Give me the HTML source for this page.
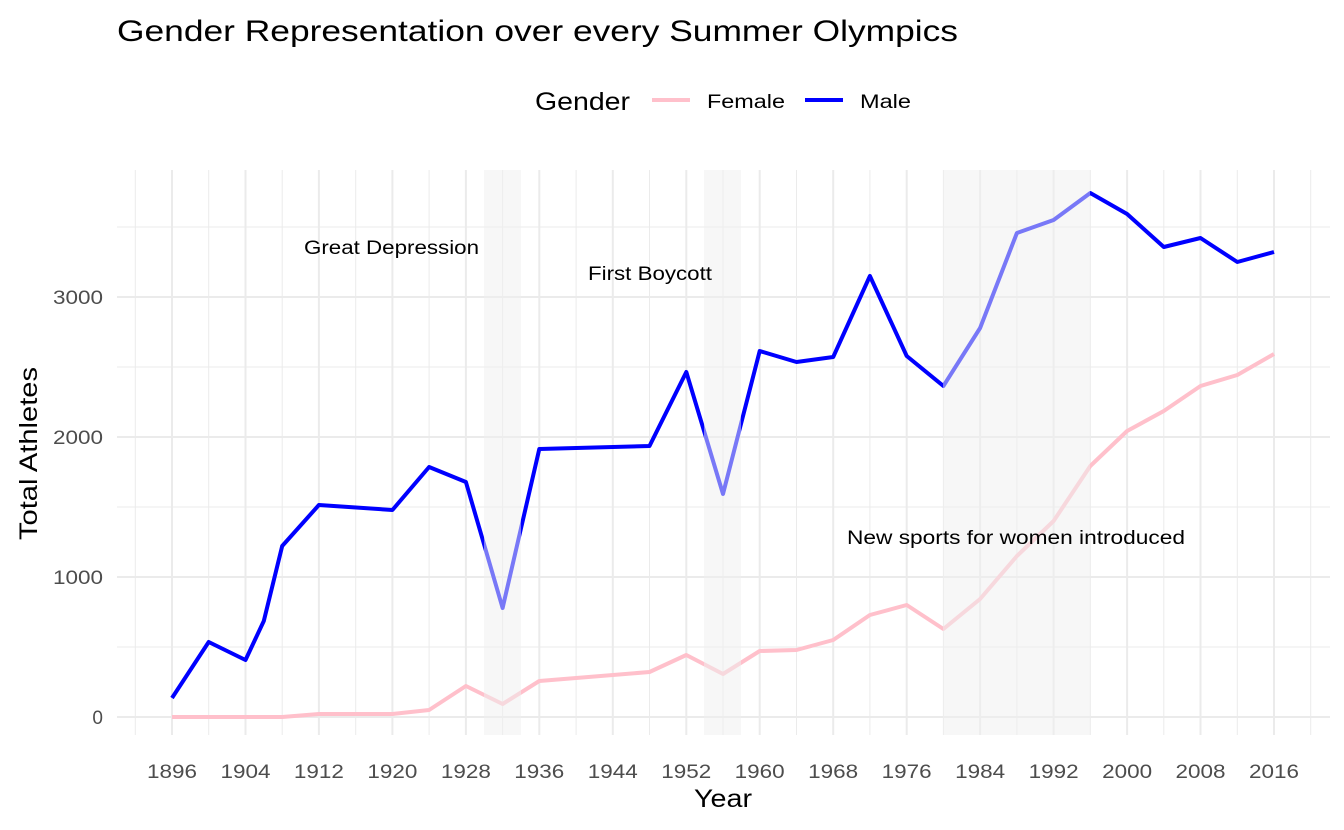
<!DOCTYPE html>
<html><head><meta charset="utf-8"><style>
html,body{margin:0;padding:0;background:#fff;}
svg{display:block;font-family:"Liberation Sans",sans-serif;}
</style></head><body>
<svg width="1344" height="830" viewBox="0 0 1344 830">
<rect width="1344" height="830" fill="#fff"/>
<g stroke="#ebebeb" stroke-width="1">
<line x1="135.3" y1="170" x2="135.3" y2="735"/><line x1="208.7" y1="170" x2="208.7" y2="735"/><line x1="282.2" y1="170" x2="282.2" y2="735"/><line x1="355.7" y1="170" x2="355.7" y2="735"/><line x1="429.1" y1="170" x2="429.1" y2="735"/><line x1="502.6" y1="170" x2="502.6" y2="735"/><line x1="576.1" y1="170" x2="576.1" y2="735"/><line x1="649.5" y1="170" x2="649.5" y2="735"/><line x1="723" y1="170" x2="723" y2="735"/><line x1="796.5" y1="170" x2="796.5" y2="735"/><line x1="869.9" y1="170" x2="869.9" y2="735"/><line x1="943.4" y1="170" x2="943.4" y2="735"/><line x1="1016.9" y1="170" x2="1016.9" y2="735"/><line x1="1090.3" y1="170" x2="1090.3" y2="735"/><line x1="1163.8" y1="170" x2="1163.8" y2="735"/><line x1="1237.3" y1="170" x2="1237.3" y2="735"/><line x1="1310.7" y1="170" x2="1310.7" y2="735"/>
<line x1="117" y1="647" x2="1330" y2="647"/><line x1="117" y1="507" x2="1330" y2="507"/><line x1="117" y1="367" x2="1330" y2="367"/><line x1="117" y1="227" x2="1330" y2="227"/>
</g>
<g stroke="#ebebeb" stroke-width="2">
<line x1="172" y1="170" x2="172" y2="735"/><line x1="245.5" y1="170" x2="245.5" y2="735"/><line x1="318.9" y1="170" x2="318.9" y2="735"/><line x1="392.4" y1="170" x2="392.4" y2="735"/><line x1="465.9" y1="170" x2="465.9" y2="735"/><line x1="539.3" y1="170" x2="539.3" y2="735"/><line x1="612.8" y1="170" x2="612.8" y2="735"/><line x1="686.3" y1="170" x2="686.3" y2="735"/><line x1="759.7" y1="170" x2="759.7" y2="735"/><line x1="833.2" y1="170" x2="833.2" y2="735"/><line x1="906.7" y1="170" x2="906.7" y2="735"/><line x1="980.1" y1="170" x2="980.1" y2="735"/><line x1="1053.6" y1="170" x2="1053.6" y2="735"/><line x1="1127.1" y1="170" x2="1127.1" y2="735"/><line x1="1200.5" y1="170" x2="1200.5" y2="735"/><line x1="1274" y1="170" x2="1274" y2="735"/>
<line x1="117" y1="717" x2="1330" y2="717"/><line x1="117" y1="577" x2="1330" y2="577"/><line x1="117" y1="437" x2="1330" y2="437"/><line x1="117" y1="297" x2="1330" y2="297"/>
</g>
<polyline fill="none" stroke="#ffc0cb" stroke-width="4" stroke-linejoin="round" points="172,717 208.7,717 245.5,717 263.8,717 282.2,717 318.9,714 392.4,714 429.1,710 465.9,686 502.6,704 539.3,681 649.5,672 686.3,655 723,674 759.7,651 796.5,650 833.2,640 869.9,615 906.7,605 943.4,629 980.1,599 1016.9,556 1053.6,521 1090.3,466 1127.1,431 1163.8,411 1200.5,386 1237.3,375 1274,354"/>
<polyline fill="none" stroke="#0000ff" stroke-width="4" stroke-linejoin="round" points="172,698 208.7,642 245.5,660 263.8,621 282.2,546 318.9,505 392.4,510 429.1,467 465.9,482 502.6,608 539.3,449 649.5,446 686.3,372 723,494 759.7,351 796.5,362 833.2,357 869.9,276 906.7,356 943.4,386 980.1,328 1016.9,233 1053.6,220 1090.3,193 1127.1,214 1163.8,247 1200.5,238 1237.3,262 1274,252"/>
<g fill="#f0f0f0" fill-opacity="0.5">
<rect x="484" y="170" width="37" height="565"/>
<rect x="704" y="170" width="37" height="565"/>
<rect x="943" y="170" width="147" height="565"/>
</g>
<g font-size="19" fill="#000">
<text x="304" y="254" textLength="175" lengthAdjust="spacingAndGlyphs">Great Depression</text>
<text x="588" y="280" textLength="124" lengthAdjust="spacingAndGlyphs">First Boycott</text>
<text x="847" y="544" textLength="338" lengthAdjust="spacingAndGlyphs">New sports for women introduced</text>
</g>
<g font-size="19" fill="#4d4d4d" text-anchor="end">
<text x="103" y="724">0</text><text x="103" y="584" textLength="50" lengthAdjust="spacingAndGlyphs">1000</text><text x="103" y="444" textLength="50" lengthAdjust="spacingAndGlyphs">2000</text><text x="103" y="304" textLength="50" lengthAdjust="spacingAndGlyphs">3000</text>
</g>
<g font-size="19" fill="#4d4d4d">
<text x="147" y="778" textLength="50" lengthAdjust="spacingAndGlyphs">1896</text><text x="220.5" y="778" textLength="50" lengthAdjust="spacingAndGlyphs">1904</text><text x="293.9" y="778" textLength="50" lengthAdjust="spacingAndGlyphs">1912</text><text x="367.4" y="778" textLength="50" lengthAdjust="spacingAndGlyphs">1920</text><text x="440.9" y="778" textLength="50" lengthAdjust="spacingAndGlyphs">1928</text><text x="514.3" y="778" textLength="50" lengthAdjust="spacingAndGlyphs">1936</text><text x="587.8" y="778" textLength="50" lengthAdjust="spacingAndGlyphs">1944</text><text x="661.3" y="778" textLength="50" lengthAdjust="spacingAndGlyphs">1952</text><text x="734.7" y="778" textLength="50" lengthAdjust="spacingAndGlyphs">1960</text><text x="808.2" y="778" textLength="50" lengthAdjust="spacingAndGlyphs">1968</text><text x="881.7" y="778" textLength="50" lengthAdjust="spacingAndGlyphs">1976</text><text x="955.1" y="778" textLength="50" lengthAdjust="spacingAndGlyphs">1984</text><text x="1028.6" y="778" textLength="50" lengthAdjust="spacingAndGlyphs">1992</text><text x="1102.1" y="778" textLength="50" lengthAdjust="spacingAndGlyphs">2000</text><text x="1175.5" y="778" textLength="50" lengthAdjust="spacingAndGlyphs">2008</text><text x="1249" y="778" textLength="50" lengthAdjust="spacingAndGlyphs">2016</text>
</g>
<text x="694" y="807" font-size="25" textLength="58" lengthAdjust="spacingAndGlyphs">Year</text>
<text transform="translate(37,540) rotate(-90)" font-size="25" textLength="173" lengthAdjust="spacingAndGlyphs">Total Athletes</text>
<text x="117" y="41" font-size="30" textLength="841" lengthAdjust="spacingAndGlyphs">Gender Representation over every Summer Olympics</text>
<text x="535" y="110" font-size="25" textLength="95" lengthAdjust="spacingAndGlyphs">Gender</text>
<line x1="652" y1="100" x2="690" y2="100" stroke="#ffc0cb" stroke-width="4"/>
<text x="707" y="108" font-size="19" textLength="78" lengthAdjust="spacingAndGlyphs">Female</text>
<line x1="805" y1="100" x2="843" y2="100" stroke="#0000ff" stroke-width="4"/>
<text x="860" y="108" font-size="19" textLength="51" lengthAdjust="spacingAndGlyphs">Male</text>
</svg>
</body></html>
